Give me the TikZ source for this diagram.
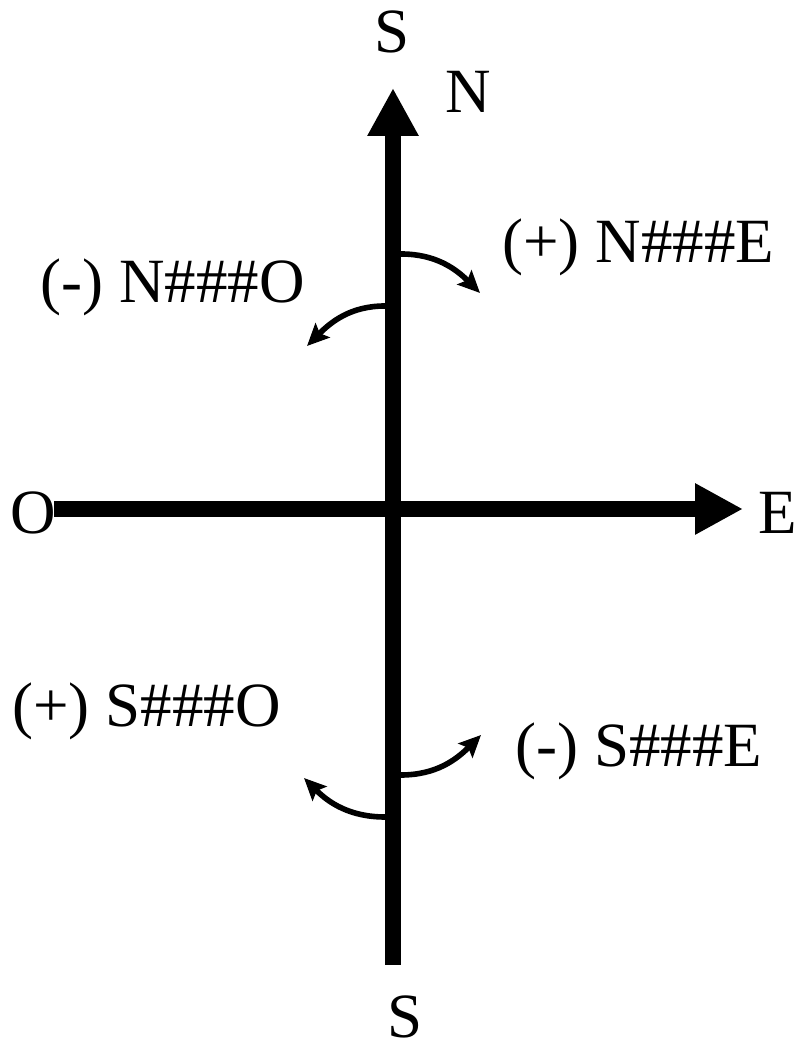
\documentclass[tikz,border=0pt]{standalone}
\usepackage{fontspec}
\setmainfont{Liberation Serif}
\usetikzlibrary{arrows.meta}
\tikzset{
  axis/.style={line width=7.8pt,-{Triangle[length=24pt,width=24pt]}},
  turn/.style={line width=2.8pt,-{Stealth[length=11pt,width=10pt,inset=2pt]}},
  lbl/.style={inner sep=0pt,font=\fontsize{31.5}{38}\selectfont}
}
\begin{document}
\begin{tikzpicture}[x=0.5pt,y=0.5pt]
      \useasboundingbox (0,0) rectangle (801,1047);
      \coordinate (Sb) at (393,82);
      \coordinate (Nt) at (393,959);
      \coordinate (Ow) at (54,538);
      \coordinate (Et) at (743,538);

      \node[lbl,anchor=base] (Stop) at (392,994){S};
      \node[lbl,anchor=base west] (N) at (445,934){N};
      \node[lbl,anchor=base west] (O) at (10,513){O};
      \node[lbl,anchor=base east] (E) at (797,513){E};
      \node[lbl,anchor=base] (Sbot) at (405,10){S};

      \node[lbl,anchor=base west] (NE) at (502,784){(+) N\#\#\#E};
      \node[lbl,anchor=base west] (NO) at (40,744){(-) N\#\#\#O};
      \node[lbl,anchor=base west] (SO) at (12,320){(+) S\#\#\#O};
      \node[lbl,anchor=base west] (SE) at (515,280){(-) S\#\#\#E};

      \coordinate (ne1) at (401,793);
      \coordinate (ne2) at (480,754);
      \coordinate (no1) at (385,741);
      \coordinate (no2) at (307,701);
      \coordinate (se1) at (401,272);
      \coordinate (se2) at (481,312);
      \coordinate (so1) at (385,230);
      \coordinate (so2) at (304,269);

      \draw (ne1) edge[turn,out=0,in=135] (ne2);
      \draw (no1) edge[turn,out=180,in=45] (no2);
      \draw (se1) edge[turn,out=0,in=-135] (se2);
      \draw (so1) edge[turn,out=180,in=-45] (so2);

      \draw[axis] (Sb) -- (Nt);
      \draw[axis] (Ow) -- (Et);
    \end{tikzpicture}
\end{document}
